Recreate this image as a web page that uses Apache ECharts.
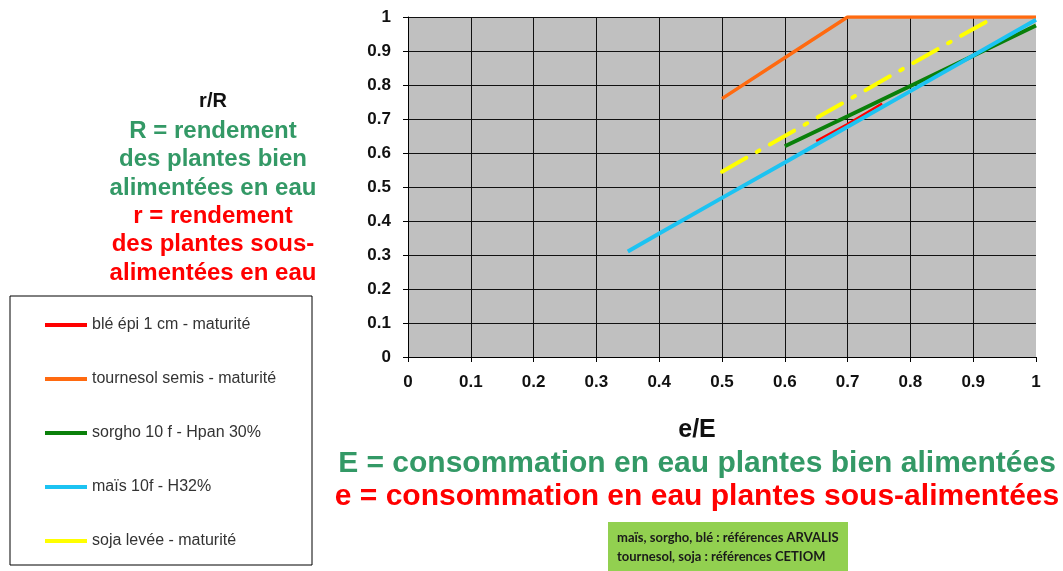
<!DOCTYPE html>
<html>
<head>
<meta charset="utf-8">
<script src="https://cdn.jsdelivr.net/npm/echarts@6/dist/echarts.min.js"></script>
<style>
  html, body { margin: 0; padding: 0; background: #fff; }
  #chart { width: 1063px; height: 571px; }
</style>
</head>
<body>
<div id="chart"></div>
<script>
// series names (legend order)
const seriesNames = [
  "blé épi 1 cm - maturité",
  "tournesol semis - maturité",
  "sorgho 10 f - Hpan 30%",
  "maïs 10f - H32%",
  "soja levée - maturité",
];

// [e/E, r/R] points
const bleData = [[0.65, 0.635], [0.7, 0.685], [0.755, 0.745]];
const tournesolData = [[0.5, 0.76], [0.6, 0.88], [0.7, 1], [0.8, 1], [0.9, 1], [1, 1]];
const sorghoData = [[0.6, 0.62], [0.7, 0.708], [0.8, 0.797], [0.9, 0.886], [1, 0.975]];
const maisData = [[0.35, 0.31], [0.4, 0.363], [0.5, 0.468], [0.6, 0.572], [0.7, 0.677], [0.8, 0.782], [0.9, 0.887], [1, 0.992]];
const sojaData = [[0.5, 0.545], [0.6, 0.65], [0.7, 0.755], [0.8, 0.86], [0.9, 0.965], [0.935, 1]];

const xTicks = [0, 0.1, 0.2, 0.3, 0.4, 0.5, 0.6, 0.7, 0.8, 0.9, 1];
const yTicks = [0, 0.1, 0.2, 0.3, 0.4, 0.5, 0.6, 0.7, 0.8, 0.9, 1];

const FONT = "Liberation Sans, Arial, sans-serif";
const GREEN_TXT = "#339966";
const RED_TXT = "#ff0000";

const chart = echarts.init(document.getElementById("chart"));

function axisCommon(ticks) {
  return {
    type: "value",
    min: ticks[0],
    max: ticks[ticks.length - 1],
    interval: 0.1,
    axisLine: { show: true, lineStyle: { color: "#000", width: 1 } },
    axisTick: { show: true, length: 5, lineStyle: { color: "#000" } },
    axisLabel: {
      color: "#111",
      fontFamily: FONT,
      fontSize: 17,
      fontWeight: "bold",
      formatter: (v) => String(+v.toFixed(1)),
    },
    splitLine: { show: true, lineStyle: { color: "#111", width: 1 } },
  };
}

const xAxis = axisCommon(xTicks);
xAxis.axisLabel.margin = 17;
xAxis.splitLine.showMaxLine = false;
const yAxis = axisCommon(yTicks);
yAxis.axisLabel.margin = 17;

const leftLines = [
  { text: "r/R", color: "#111", size: 20 },
  { text: "R = rendement", color: GREEN_TXT, size: 24 },
  { text: "des plantes bien", color: GREEN_TXT, size: 24 },
  { text: "alimentées en eau", color: GREEN_TXT, size: 24 },
  { text: "r = rendement", color: RED_TXT, size: 24 },
  { text: "des plantes sous-", color: RED_TXT, size: 24 },
  { text: "alimentées en eau", color: RED_TXT, size: 24 },
];
const leftY = [101, 131, 159, 188, 216, 244, 273];

const graphics = [
  {
    type: "rect",
    z: 0,
    shape: { x: 10, y: 296, width: 302, height: 269 },
    style: { fill: "#fff", stroke: "#000", lineWidth: 1 },
  },
  {
    type: "rect",
    shape: { x: 608, y: 522, width: 240, height: 49 },
    style: { fill: "#92d050" },
  },
  {
    type: "text",
    x: 617, y: 538,
    style: { text: "maïs, sorgho, blé : références ARVALIS", fill: "#1a1a1a",
      font: "bold 13px Lato, sans-serif", verticalAlign: "middle" },
  },
  {
    type: "text",
    x: 617, y: 557,
    style: { text: "tournesol, soja : références CETIOM", fill: "#1a1a1a",
      font: "bold 13px Lato, sans-serif", verticalAlign: "middle" },
  },
  {
    type: "text",
    x: 697, y: 430,
    style: { text: "e/E", fill: "#111", font: "bold 25px " + FONT, align: "center", verticalAlign: "middle" },
  },
  {
    type: "text",
    x: 697, y: 464,
    style: { text: "E = consommation en eau plantes bien alimentées", fill: GREEN_TXT,
      font: "bold 30px " + FONT, align: "center", verticalAlign: "middle" },
  },
  {
    type: "text",
    x: 697, y: 497,
    style: { text: "e = consommation en eau plantes sous-alimentées", fill: RED_TXT,
      font: "bold 30px " + FONT, align: "center", verticalAlign: "middle" },
  },
];
leftLines.forEach((l, i) => {
  graphics.push({
    type: "text",
    x: 213, y: leftY[i],
    style: { text: l.text, fill: l.color, font: "bold " + l.size + "px " + FONT,
      align: "center", verticalAlign: "middle" },
  });
});

chart.setOption({
  animation: false,
  backgroundColor: "#fff",
  grid: { left: 408, right: 27, top: 17, bottom: 214, show: true, backgroundColor: "#c0c0c0", borderWidth: 0 },
  xAxis: xAxis,
  yAxis: yAxis,
  legend: {
    orient: "vertical",
    left: 40,
    top: 312,
    z: 5,
    icon: "rect",
    itemWidth: 42,
    itemHeight: 4,
    itemGap: 38,
    data: seriesNames,
    textStyle: { fontFamily: FONT, fontSize: 16, color: "#333" },
  },
  graphic: graphics,
  series: [
    { name: seriesNames[0], type: "line", data: bleData, showSymbol: false,
      color: "#ff0000", lineStyle: { width: 2.5, color: "#ff0000" } },
    { name: seriesNames[1], type: "line", data: tournesolData, showSymbol: false,
      color: "#ff6a10", lineStyle: { width: 3.5, color: "#ff6a10" } },
    { name: seriesNames[2], type: "line", data: sorghoData, showSymbol: false,
      color: "#0a800a", lineStyle: { width: 4, color: "#0a800a" } },
    { name: seriesNames[3], type: "line", data: maisData, showSymbol: false,
      color: "#1cc3f2", lineStyle: { width: 4, color: "#1cc3f2" } },
    { name: seriesNames[4], type: "line", data: sojaData, showSymbol: false,
      color: "#ffff00", lineStyle: { width: 4, color: "#ffff00", type: [28, 12, 3, 12], cap: "round" } },
  ],
});
</script>
</body>
</html>
